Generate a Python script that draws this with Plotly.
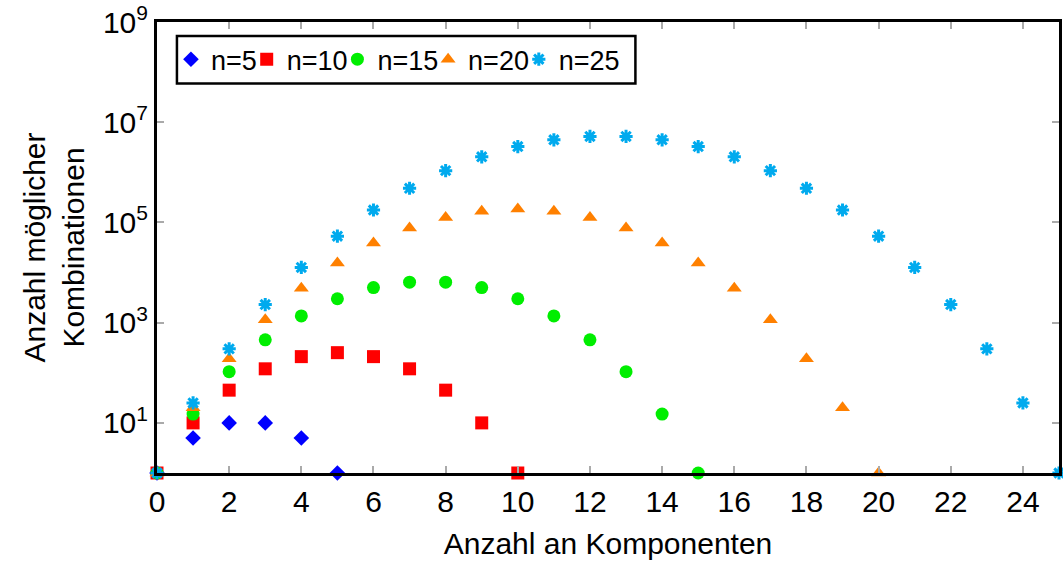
import plotly.graph_objects as go

k5 = list(range(0, 6))
v5 = [1, 5, 10, 10, 5, 1]
k10 = list(range(0, 11))
v10 = [1, 10, 45, 120, 210, 252, 210, 120, 45, 10, 1]
k15 = list(range(0, 16))
v15 = [1, 15, 105, 455, 1365, 3003, 5005, 6435, 6435, 5005, 3003, 1365, 455, 105, 15, 1]
k20 = list(range(0, 21))
v20 = [1, 20, 190, 1140, 4845, 15504, 38760, 77520, 125970, 167960, 184756,
       167960, 125970, 77520, 38760, 15504, 4845, 1140, 190, 20, 1]
k25 = list(range(0, 26))
v25 = [1, 25, 300, 2300, 12650, 53130, 177100, 480700, 1081575, 2042975, 3268760,
       4457400, 5200300, 5200300, 4457400, 3268760, 2042975, 1081575, 480700,
       177100, 53130, 12650, 2300, 300, 25, 1]

ytickvals = [10, 1000, 100000, 10000000, 1000000000]
yticktext = ["10<sup>1</sup>", "10<sup>3</sup>", "10<sup>5</sup>", "10<sup>7</sup>", "10<sup>9</sup>"]
xtickvals = list(range(0, 25, 2))

series = [
    ("n=5", k5, v5, "diamond", "#0000ff", 12, None),
    ("n=10", k10, v10, "square", "#ff0000", 13, None),
    ("n=15", k15, v15, "circle", "#00ee00", 13, None),
    ("n=20", k20, v20, "triangle-up", "#ff8000", 13, None),
    ("n=25", k25, v25, "asterisk-open", "#00aaee", 11, 3),
]

FS = 30
LFS = 27
# pixel x-position of each legend symbol
legend_sym_px = [190, 266, 357, 448, 539]

L, R, T, B = 157, 1062, 18, 473
W, H = R - L, B - T
def px(x):
    return (x - L) / W
def py(y):
    return (B - y) / H

fig = go.Figure()
legends = {}
for i, (name, x, y, sym, col, size, lw) in enumerate(series):
    marker = dict(symbol=sym, color=col, size=size)
    if lw is not None:
        marker["line"] = dict(color=col, width=lw)
    else:
        marker["line"] = dict(width=0)
    lg = "legend" if i == 0 else f"legend{i + 1}"
    fig.add_trace(go.Scatter(x=x, y=y, mode="markers", name=name, marker=marker,
                             cliponaxis=False, legend=lg))
    legends[lg] = dict(orientation="h", yanchor="middle", y=py(56), xanchor="left",
                       x=px(legend_sym_px[i] - 19),
                       bgcolor="rgba(0,0,0,0)", borderwidth=0,
                       font=dict(size=LFS), itemwidth=30, tracegroupgap=0)

fig.add_shape(type="rect", xref="paper", yref="paper",
              x0=px(177), x1=px(637), y0=py(80), y1=py(32),
              line=dict(color="black", width=2.5), fillcolor="white", layer="above")

fig.update_layout(
    width=1063, height=567,
    margin=dict(l=L, r=1063 - R, t=T, b=567 - B),
    paper_bgcolor="white", plot_bgcolor="white",
    font=dict(family="Liberation Sans, Arial, sans-serif", size=FS, color="black"),
    showlegend=True,
    **legends,
)
fig.update_xaxes(
    range=[0, 25], tickvals=xtickvals, ticks="inside", ticklen=7, tickcolor="#aaaaaa",
    tickwidth=1.5, showline=True, linecolor="black", linewidth=3, mirror="ticks",
    showgrid=False, zeroline=False, tickfont=dict(size=FS),
    title=dict(text="Anzahl an Komponenten", font=dict(size=FS), standoff=16),
)
fig.update_yaxes(
    type="log", range=[0, 9], tickvals=ytickvals, ticktext=yticktext,
    ticks="inside", ticklen=7, tickcolor="#aaaaaa", tickwidth=1.5,
    showline=True, linecolor="black", linewidth=3, mirror="ticks",
    showgrid=False, zeroline=False, tickfont=dict(size=FS), ticklabeloverflow="allow",
    title=dict(text="Anzahl möglicher<br>Kombinationen", font=dict(size=FS), standoff=10),
)

fig.write_html("out.html")
